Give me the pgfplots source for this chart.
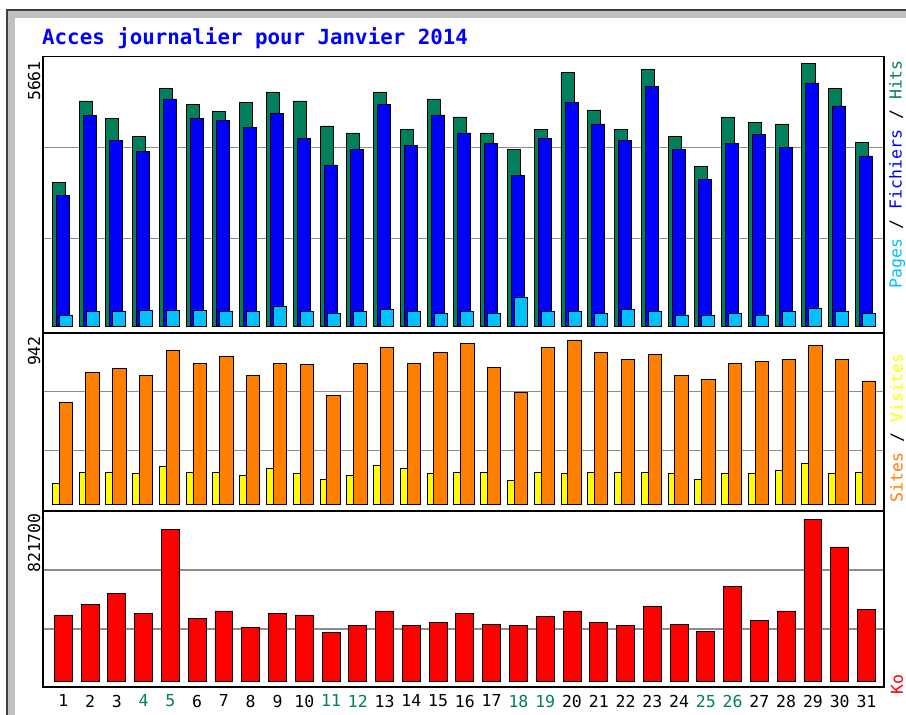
\documentclass[border=0pt]{standalone}
\usepackage{pgfplots}
\pgfplotsset{compat=1.18}
\usepackage{fontspec}
\setmainfont{DejaVu Sans}
\newfontfamily\monofont{DejaVu Sans Mono}
\definecolor{hitsc}{HTML}{00805C}
\definecolor{filesc}{HTML}{0000FF}
\definecolor{pagesc}{HTML}{00C0FF}
\definecolor{visitsc}{HTML}{FFFF00}
\definecolor{sitesc}{HTML}{FF8000}
\definecolor{koc}{HTML}{FF0000}
\definecolor{wk}{HTML}{00805C}
\definecolor{frameg}{HTML}{C0C0C0}
\definecolor{gridg}{HTML}{8C8C8C}
\newcommand{\tickfont}{\monofont\fontsize{16.5}{18}\selectfont}
\pgfplotsset{
  panel/.style={
    anchor=south west, scale only axis, width=841pt,
    xmin=0.242, xmax=31.654,
    axis line style={black, line width=1.6pt},
    major tick length=0pt,
    xtick=\empty,
    yticklabels={},
    scaled y ticks=false,
    ymajorgrids, grid style={gridg, line width=1.3pt},
    clip=false,
  },
  barst/.style={ybar, draw=black, line width=0.9pt},
}
\begin{document}
\begin{tikzpicture}[x=1pt,y=1pt]
\useasboundingbox (0,0) rectangle (906,715);
\fill[white] (0,0) rectangle (906,715);
\fill[frameg] (7,-10) rectangle (920,705);
\draw[black!75, line width=1.2pt] (7,-10) -- (7,705) -- (920,705);
\fill[white] (15,-10) rectangle (920,697);
\node[anchor=base west, inner sep=0, text=filesc, font=\monofont\bfseries\fontsize{20.8}{24}\selectfont] at (42,670) {Acces journalier pour Janvier 2014};

% ---------- top panel: hits / files / pages ----------
\begin{axis}[panel, at={(43pt,382pt)}, height=276.3pt,
  ymin=-150.9, ymax=5803.4, ytick={1890,3851}]
\addplot[barst, bar width=0.486, bar shift=-0.168, fill=hitsc] coordinates {
(1,3088)(2,4849)(3,4467)(4,4079)(5,5122)(6,4778)(7,4618)(8,4812)(9,5043)(10,4849)
(11,4310)(12,4159)(13,5043)(14,4239)(15,4892)(16,4504)(17,4159)(18,3814)(19,4239)(20,5467)
(21,4655)(22,4239)(23,5538)(24,4088)(25,3433)(26,4504)(27,4396)(28,4353)(29,5661)(30,5122)(31,3965)};
\addplot[barst, bar width=0.486, bar shift=-0.019, fill=filesc] coordinates {
(1,2817)(2,4541)(3,4008)(4,3771)(5,4892)(6,4467)(7,4433)(8,4273)(9,4584)(10,4045)
(11,3470)(12,3814)(13,4778)(14,3894)(15,4547)(16,4159)(17,3929)(18,3239)(19,4045)(20,4812)
(21,4353)(22,4008)(23,5157)(24,3814)(25,3161)(26,3929)(27,4123)(28,3851)(29,5237)(30,4741)(31,3664)};
\addplot[barst, bar width=0.486, bar shift=0.093, fill=pagesc] coordinates {
(1,231)(2,317)(3,317)(4,345)(5,345)(6,345)(7,317)(8,317)(9,431)(10,317)
(11,274)(12,317)(13,360)(14,317)(15,274)(16,317)(17,274)(18,625)(19,317)(20,317)
(21,274)(22,360)(23,317)(24,237)(25,237)(26,274)(27,237)(28,317)(29,388)(30,317)(31,274)};
\end{axis}

% ---------- middle panel: visits / sites ----------
\begin{axis}[panel, at={(43pt,204pt)}, height=178pt,
  ymin=-38.4, ymax=982.1, ytick={307.3,645.5}]
\addplot[barst, bar width=0.486, bar shift=-0.168, fill=visitsc] coordinates {
(1,122)(2,185)(3,185)(4,174)(5,216)(6,185)(7,185)(8,164)(9,206)(10,174)
(11,143)(12,164)(13,225)(14,206)(15,174)(16,185)(17,185)(18,134)(19,185)(20,174)
(21,185)(22,185)(23,185)(24,174)(25,143)(26,174)(27,174)(28,195)(29,237)(30,174)(31,185)};
\addplot[barst, bar width=0.5, bar shift=0.093, fill=sitesc] coordinates {
(1,585)(2,757)(3,780)(4,737)(5,881)(6,808)(7,850)(8,737)(9,808)(10,799)
(11,625)(12,808)(13,900)(14,808)(15,869)(16,921)(17,787)(18,644)(19,900)(20,942)
(21,869)(22,829)(23,860)(24,737)(25,717)(26,808)(27,820)(28,829)(29,912)(30,829)(31,707)};
\end{axis}

% ---------- bottom panel: Ko ----------
\begin{axis}[panel, at={(43pt,27.7pt)}, height=176.3pt,
  ymin=-28282, ymax=862103, ytick={266150,564100},
  xtick={1,...,31},
  xticklabels={1,2,3,\textcolor{wk}{4},\textcolor{wk}{5},6,7,8,9,10,\textcolor{wk}{11},\textcolor{wk}{12},13,14,15,16,17,\textcolor{wk}{18},\textcolor{wk}{19},20,21,22,23,24,\textcolor{wk}{25},\textcolor{wk}{26},27,28,29,30,31},
  xticklabel style={font=\tickfont, yshift=-4pt, inner xsep=0pt}]
\addplot[barst, bar width=0.67, bar shift=0, fill=koc] coordinates {
(1,336900)(2,392400)(3,446400)(4,345400)(5,769700)(6,320200)(7,357100)(8,274700)(9,345400)(10,336900)
(11,247500)(12,282800)(13,357100)(14,282800)(15,301500)(16,345400)(17,291400)(18,282800)(19,328300)(20,357100)
(21,301500)(22,282800)(23,382300)(24,291400)(25,256000)(26,483300)(27,311600)(28,357100)(29,821700)(30,680300)(31,365700)};
\end{axis}

% ---------- left labels ----------
\node[rotate=90, anchor=east, inner sep=0, font=\tickfont] at (34,654) {5661};
\node[rotate=90, anchor=east, inner sep=0, font=\tickfont] at (34,379) {942};
\node[rotate=90, anchor=east, inner sep=0, font=\tickfont] at (34,202) {821700};

% ---------- right labels ----------
\node[rotate=90, anchor=east, inner sep=0, font=\tickfont] at (897,655)
  {\textcolor{pagesc}{Pages} / \textcolor{filesc}{Fichiers} / \textcolor{hitsc}{Hits}};
\node[rotate=90, anchor=east, inner sep=0, font=\tickfont] at (897,362)
  {\textcolor{sitesc}{Sites} / \textcolor{visitsc}{Visites}};
\node[rotate=90, anchor=west, inner sep=0, font=\tickfont] at (897,20)
  {\textcolor{koc}{Ko}};
\end{tikzpicture}
\end{document}
